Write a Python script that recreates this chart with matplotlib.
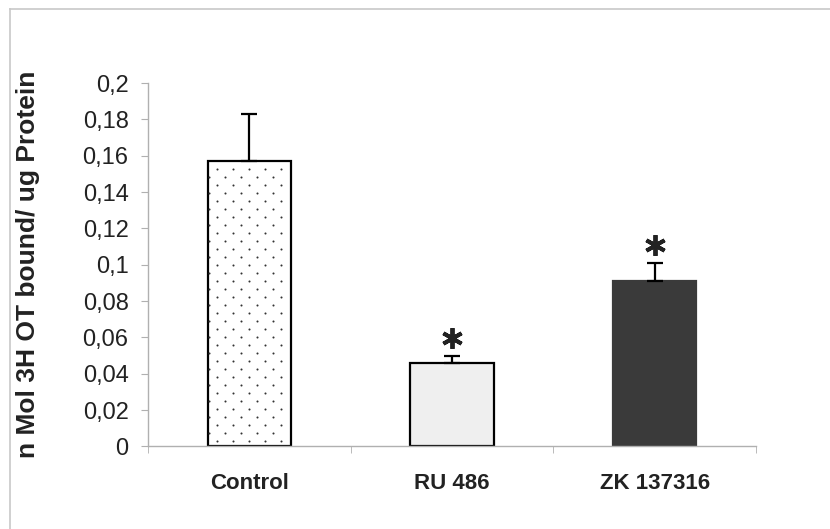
import numpy as np
import matplotlib
matplotlib.use("Agg")
import matplotlib.pyplot as plt
from matplotlib.lines import Line2D
from matplotlib.ticker import MultipleLocator, FuncFormatter, FixedLocator
from matplotlib.transforms import offset_copy

plt.rcParams['font.family'] = ['Liberation Sans', 'DejaVu Sans']

# data
groups = ['Control', 'RU 486', 'ZK 137316']
binding = [0.157, 0.046, 0.091]
sem = [0.026, 0.004, 0.010]
significant = [False, True, True]
ylabel = 'n Mol 3H OT bound/ ug Protein'

fills = ['white', '#efefef', '#3a3a3a']
dotted = [True, False, False]
edges = ['black', 'black', '#3a3a3a']

fig = plt.figure(figsize=(8.3, 5.29), dpi=100)
ax = fig.add_axes([0.1783, 0.156, 0.7325, 0.687])
ax.set_xlim(-0.5, len(groups) - 0.5)
ax.set_ylim(0, 0.2)

x = np.arange(len(groups))
bars = []
for i in x:
    b = ax.bar(x[i], binding[i], width=0.41, color=fills[i], edgecolor=edges[i],
               linewidth=1.6, zorder=2)
    bars.append(b[0])
ax.errorbar(x, binding, yerr=[np.zeros(len(sem)), sem], fmt='none',
            ecolor='black', elinewidth=1.6, capsize=6, capthick=1.6, zorder=3)


def dot_texture(patch, step_px=8):
    # staggered dot fill like the old excel pattern
    x0, w, h = patch.get_x(), patch.get_width(), patch.get_height()
    px = ax.transData.transform([(0, 0), (1, 1)])
    dx = step_px / (px[1, 0] - px[0, 0])
    dy = step_px / (px[1, 1] - px[0, 1])
    xs, ys = [], []
    row = 1
    while row * dy < h - dy * 0.3:
        yy = h - row * dy
        start = x0 + (dx * 1.1 if row % 2 else dx * 0.1)
        cols = np.arange(start, x0 + w - dx * 0.5, 2 * dx)
        xs.extend(cols)
        ys.extend([yy] * len(cols))
        row += 1
    ax.scatter(xs, ys, s=2.2, color='#333333', linewidths=0, zorder=2.5)


for b, d in zip(bars, dotted):
    if d:
        dot_texture(b)

# significance markers sit a little above the error caps
star_tr = offset_copy(ax.transData, fig=fig, y=18, units='dots')
tops = np.array(binding) + np.array(sem)
for i in x:
    if significant[i]:
        ax.plot(x[i], tops[i], marker=(6, 2, 0), markersize=15,
                markeredgewidth=2.8, color='#222222', transform=star_tr,
                clip_on=False, zorder=4)

ax.yaxis.set_major_locator(MultipleLocator(0.02))
ax.yaxis.set_major_formatter(FuncFormatter(lambda v, p: f"{v:g}".replace('.', ',')))

ax.set_xticks(x)
ax.set_xticklabels(groups, fontsize=16, fontweight='bold', color='#222222')
ax.xaxis.set_minor_locator(FixedLocator(np.arange(len(groups) + 1) - 0.5))
ax.tick_params(axis='x', which='major', length=0, pad=19)
ax.tick_params(axis='x', which='minor', length=5, color='#b0b0b0', direction='out')
ax.tick_params(axis='y', length=5, color='#b0b0b0', labelsize=17,
               labelcolor='#222222', pad=9)

for s in ['top', 'right']:
    ax.spines[s].set_visible(False)
for s in ['left', 'bottom']:
    ax.spines[s].set_color('#b0b0b0')
    ax.spines[s].set_linewidth(1.0)

ax.set_ylabel(ylabel, fontsize=19, fontweight='bold', color='#222222')
ax.yaxis.set_label_coords(-0.178, 0.5)

# outer chart frame (only top and left edges visible)
fig.add_artist(Line2D([10 / 830, 10 / 830], [0, 1 - 9 / 529], color='#c8c8c8',
                      lw=1.2, transform=fig.transFigure))
fig.add_artist(Line2D([10 / 830, 1], [1 - 9 / 529, 1 - 9 / 529], color='#c8c8c8',
                      lw=1.2, transform=fig.transFigure))

fig.savefig('out.png', dpi=100)
